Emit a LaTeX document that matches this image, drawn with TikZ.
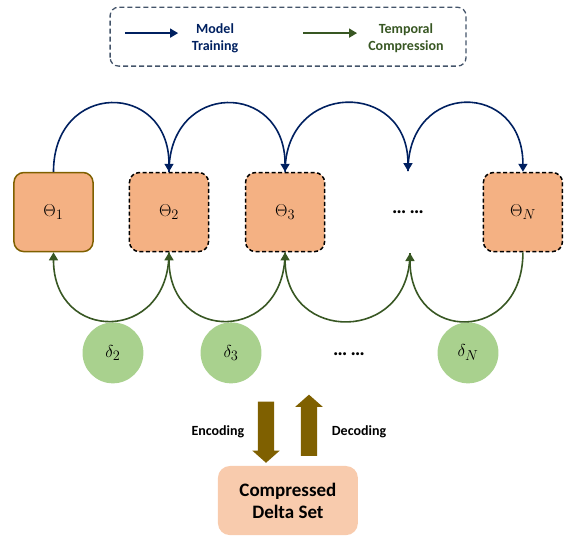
\documentclass[tikz,border=0pt]{standalone}
\usepackage{fontspec}
\setmainfont{Carlito}
\usepackage{amsmath}
\usepackage{tikz}
\usetikzlibrary{shapes,arrows,arrows.meta}
\definecolor{trainblue}{HTML}{002060}
\definecolor{compgreen}{HTML}{385723}
\definecolor{thetafill}{HTML}{F4B183}
\definecolor{deltafill}{HTML}{A9D18E}
\definecolor{setfill}{HTML}{F8CBAD}
\definecolor{codecbrown}{HTML}{7F6000}
\definecolor{legendgray}{HTML}{44546A}
\tikzstyle{thetafirst}=[draw=codecbrown, line width=1.5pt, fill=thetafill,
    minimum width=2.78cm, minimum height=2.78cm, rounded corners=0.35cm,
    font=\fontsize{19}{22}\selectfont]
\tikzstyle{thetanext} = [thetafirst, draw=black, dash pattern=on 4pt off 2.5pt]
\tikzstyle{delta}=[circle, fill=deltafill, minimum size=2.14cm,
    font=\fontsize{19}{22}\selectfont]
\tikzstyle{deltaset}=[fill=setfill, rounded corners=0.42cm, minimum width=4.92cm,
    minimum height=2.43cm, align=center, font=\bfseries\fontsize{19}{22}\selectfont]
\tikzstyle{training}=[-{Triangle[length=8pt,width=9pt]}, draw=trainblue, line width=1.6pt]
\tikzstyle{compression}=[-{Triangle[length=8pt,width=9pt]}, draw=compgreen, line width=1.6pt]
\tikzstyle{codec}=[single arrow, fill=codecbrown, minimum height=2.15cm,
    inner sep=0.28cm, single arrow head extend=0.195cm, single arrow tip angle=97]
\tikzstyle{legendtext}=[font=\bfseries\fontsize{14}{17}\selectfont, align=center]
\tikzstyle{dots}=[font=\bfseries\fontsize{20}{22}\selectfont]

\begin{document}
\begin{tikzpicture}
\useasboundingbox (0,0) rectangle (20.07,18.874);
% Legend
\draw [legendgray, line width=1.3pt, dash pattern=on 5pt off 3pt, rounded corners=0.3cm]
    (3.87,16.55) rectangle (16.38,18.62);
\path (4.39,17.71) coordinate (lb1);
\path (6.26,17.71) coordinate (lb2);
\path (10.65,17.71) coordinate (lg1);
\path (12.55,17.71) coordinate (lg2);
\draw [training] (lb1) -- (lb2);
\draw [compression] (lg1) -- (lg2);
\path (7.56,17.52) node [legendtext, text=trainblue] (ltrain) {Model\\Training};
\path (14.27,17.52) node [legendtext, text=compgreen] (lcomp) {Temporal\\Compression};
% Checkpoints
\path (1.88,11.42) node [thetafirst] (t1) {$\Theta_1$};
\path (5.94,11.42) node [thetanext] (t2) {$\Theta_2$};
\path (10.02,11.42) node [thetanext] (t3) {$\Theta_3$};
\path (14.34,11.42) node [dots] (tdots) {\dots\,\dots};
\path (18.38,11.42) node [thetanext] (tn) {$\Theta_N$};
\path (14.34,12.86) coordinate (dtop);
\path (14.41,9.98) coordinate (dbot);
% Deltas
\path (3.97,6.47) node [delta] (d2) {$\delta_2$};
\path (8.12,6.47) node [delta] (d3) {$\delta_3$};
\path (12.27,6.43) node [dots] (ddots) {\dots\,\dots};
\path (16.45,6.47) node [delta] (dn) {$\delta_N$};
% training arrows
\draw [training] (t1.north) .. controls +(0,3.2) and +(0,3.2) .. (t2.north);
\draw [training] (t2.north) .. controls +(0,3.2) and +(0,3.2) .. (t3.north);
\draw [training] (t3.north) .. controls +(0,3.2) and +(0,3.2) .. (dtop);
\draw [training] (dtop) .. controls +(0,3.2) and +(0,3.2) .. (tn.north);
% compression arrows
\draw [compression] (t2.south) .. controls +(0,-3.2) and +(0,-3.2) .. (t1.south);
\draw [compression] (t3.south) .. controls +(0,-3.2) and +(0,-3.2) .. (t2.south);
\draw [compression] (dbot) .. controls +(0,-3.2) and +(0,-3.2) .. (t3.south);
\draw [compression] (tn.south) .. controls +(0,-3.2) and +(0,-3.2) .. (dbot);
% Encoding / decoding
\path (9.35,3.81) node [codec, rotate=-90] (enc) {};
\path (10.86,3.80) node [codec, rotate=90] (dec) {};
\path (7.66,3.69) node [legendtext] (lenc) {Encoding};
\path (12.62,3.69) node [legendtext] (ldec) {Decoding};
\path (10.12,1.28) node [deltaset] (dset) {Compressed\\Delta Set};
\end{tikzpicture}
\end{document}
